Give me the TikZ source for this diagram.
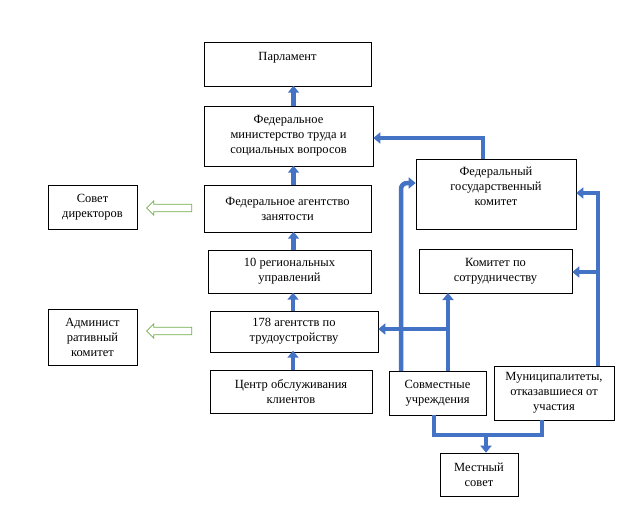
\documentclass[tikz,border=0pt]{standalone}
\usepackage{fontspec}
\setmainfont{Liberation Serif}
\usetikzlibrary{arrows.meta,shapes.arrows}
\definecolor{flowblue}{RGB}{68,114,196}
\definecolor{hollowgreen}{RGB}{112,173,71}

\begin{document}
\begin{tikzpicture}[x=1pt,y=-1pt,
	box/.style={draw, line width=0.6pt, align=center, inner sep=1pt,
		font=\fontsize{12.5}{15}\selectfont},
	flow/.style={line width=4.5pt, color=flowblue,
		-{Triangle[length=7pt,width=11pt]}},
	line/.style={line width=4.5pt, color=flowblue},
	hollow/.style={single arrow, draw=hollowgreen, fill=white, line width=0.7pt,
		minimum height=45pt, minimum width=14pt, single arrow head extend=3pt,
		shape border rotate=180, inner sep=3pt}]
	\useasboundingbox (0,0) rectangle (623,523);
	% left column
	\node[box, minimum width=167, minimum height=44] (parl) at (287.5,64) {Парламент\\\mbox{}};
	\node[box, minimum width=169, minimum height=60] (min) at (288.5,136) {Федеральное\\министерство труда и\\социальных вопросов};
	\node[box, minimum width=167, minimum height=47] (agency) at (287.5,208.5) {Федеральное агентство\\занятости};
	\node[box, minimum width=163, minimum height=43] (reg) at (289.5,271.5) {10 региональных\\управлений};
	\node[box, minimum width=168, minimum height=41] (agents) at (294,331.5) {178 агентств по\\трудоустройству};
	\node[box, minimum width=162, minimum height=43] (centre) at (291,391.5) {Центр обслуживания\\клиентов};
	% far left
	\node[box, minimum width=89, minimum height=44] (board) at (92.5,207) {Совет\\директоров};
	\node[box, minimum width=89, minimum height=56] (admin) at (92.5,337) {Админист\\ративный\\комитет};
	\node[hollow] (h1) at (171,208) {};
	\node[hollow] (h2) at (171,331) {};
	% right side
	\node[box, minimum width=160, minimum height=70] (fsc) at (496,194) {Федеральный\\государственный\\комитет\\\mbox{}};
	\node[box, minimum width=153, minimum height=44] (coop) at (495.5,271) {Комитет по\\сотрудничеству};
	\node[box, minimum width=97, minimum height=44] (joint) at (437.5,393) {Совместные\\учреждения};
	\node[box, minimum width=120, minimum height=54] (muni) at (554,393) {Муниципалитеты,\\отказавшиеся от\\участия};
	\node[box, minimum width=78, minimum height=43] (local) at (479,474.5) {Местный\\совет};
	% junctions
	\coordinate (j1) at (448,329);
	\coordinate (j2) at (598,272);
	\coordinate (j3) at (486,435);
	% upward chain
	\draw[flow] (centre.north -| agents.north) ++(-1,0) -- ++(0,-19);
	\draw[flow] (agents.north) ++(-1,0) -- ++(0,-18);
	\draw[flow] (reg.north) ++(4,0) -- ++(0,-18);
	\draw[flow] (agency.north) ++(6,0) -- ++(0,-19);
	\draw[flow] (min.north) ++(5,0) -- ++(0,-20);
	\draw[flow] (483,159) -- (483,138) -- (min.east |- 0,138);
	% from joint bodies
	\draw[flow, rounded corners=6pt] (401,371) -- (401,183) -- (fsc.west |- 0,183);
	\draw[flow] (448,371) -- (448,293);
	\draw[flow] (j1) -- (agents.east |- j1);
	% from municipalities
	\draw[flow] (598,366) -- (598,193) -- (fsc.east |- 0,193);
	\draw[flow] (j2) -- (coop.east |- j2);
	% to local council
	\draw[line] (434,415) -- (434,435) -- (542,435) -- (542,420);
	\draw[flow] (j3) -- (local.north -| j3);
\end{tikzpicture}
\end{document}
